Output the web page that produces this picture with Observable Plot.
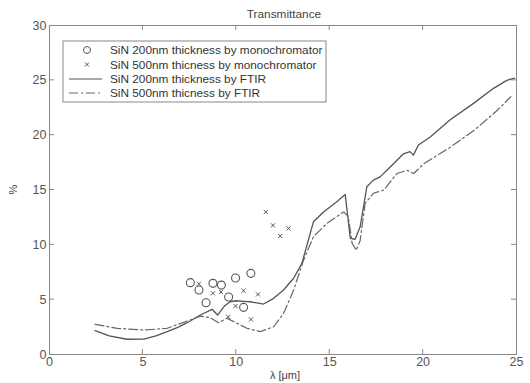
<!DOCTYPE html>
<html><head><meta charset="utf-8">
<script src="https://cdn.jsdelivr.net/npm/d3@7"></script>
<script src="https://cdn.jsdelivr.net/npm/@observablehq/plot@0.6"></script>
<style>body{margin:0;background:#fff}#c{position:relative;width:530px;height:383px}</style>
</head><body><div id="c"></div>
<script>
const xTicks = [0,5,10,15,20,25];
const yTicks = [0,5,10,15,20,25,30];
const monoX200 = [7.54,8.0,8.38,8.75,9.2,9.59,9.96,10.39,10.78];
const monoY200 = [6.55,5.88,4.72,6.49,6.33,5.24,6.97,4.3,7.4];
const monoX500 = [8.0,8.75,9.18,9.57,9.96,10.39,10.78,11.16,11.58,11.96,12.35,12.8];
const monoY500 = [6.45,5.58,5.7,3.42,4.42,5.82,3.2,5.48,13.0,11.78,10.8,11.5];
const ftirX200 = [2.44,3.2,4.15,5.05,5.7,6.3,6.9,7.37,8.08,8.7,9.0,9.36,9.68,9.96,10.4,10.75,11.1,11.46,12.0,12.53,13.07,13.51,14.13,14.67,15.38,15.83,16.1,16.36,16.63,16.99,17.34,17.7,18.24,18.95,19.3,19.48,19.75,20.4,21.45,22.7,23.77,24.48,24.9];
const ftirY200 = [2.17,1.7,1.39,1.41,1.7,2.08,2.5,2.9,3.6,4.12,3.6,4.42,4.81,4.9,4.85,4.81,4.7,4.6,5.12,5.88,6.95,8.31,12.1,13.0,13.93,14.6,10.6,10.5,11.65,15.3,15.9,16.2,17.1,18.3,18.5,18.18,19.1,19.85,21.4,22.9,24.27,25.0,25.2];
const ftirX500 = [2.44,3.62,5.05,6.3,7.37,8.08,8.6,9.05,9.5,9.86,10.57,11.28,12.0,12.53,13.07,13.6,14.13,14.85,15.75,16.0,16.2,16.42,16.63,16.9,17.34,17.9,18.6,19.14,19.5,20.04,21.45,22.7,23.93,24.7];
const ftirY500 = [2.75,2.39,2.23,2.39,3.05,3.5,3.36,2.9,3.3,3.0,2.39,2.08,2.53,3.75,5.88,8.6,10.74,11.96,13.0,12.56,10.14,9.5,10.4,13.8,14.7,15.0,16.5,16.8,16.5,17.4,18.9,20.4,22.2,23.5];
const legendLabels = ["SiN 200nm thickness by monochromator","SiN 500nm thicness by monochromator","SiN 200nm thickness by FTIR","SiN 500nm thicness by FTIR"];
const titleText = "Transmittance";

const zip = (xs, ys) => xs.map((x,i)=>({x, y: ys[i]}));
const m200 = zip(monoX200, monoY200), m500 = zip(monoX500, monoY500);
const f200 = zip(ftirX200, ftirY200), f500 = zip(ftirX500, ftirY500);
const ink = "#555";

const plot = Plot.plot({
  width: 530, height: 383,
  marginLeft: 49, marginRight: 14, marginTop: 25, marginBottom: 29,
  style: {fontFamily: "Liberation Sans, Arial, sans-serif", fontSize: "12px", color: ink, background: "#fff"},
  x: {type: "linear", domain: [0,25], ticks: xTicks, label: null},
  y: {type: "linear", domain: [0,30], ticks: yTicks, label: null},
  marks: [
    Plot.frame({stroke: "#888"}),
    Plot.axisX(xTicks, {anchor: "bottom", tickSize: 0, tickPadding: 3, fill: ink, fontSize: 12.5}),
    Plot.axisY(yTicks, {anchor: "left", tickSize: 0, tickPadding: 3, fill: ink, fontSize: 12.5}),
    Plot.line(f200, {x:"x", y:"y", stroke: "#555", strokeWidth: 1.3}),
    Plot.line(f500, {x:"x", y:"y", stroke: "#666", strokeWidth: 1.2, strokeDasharray: "9,3,2,3"}),
    Plot.dot(m200, {x:"x", y:"y", r: 4, stroke: "#555", strokeWidth: 1.1, fill: "none"}),
    Plot.dot(m500, {x:"x", y:"y", r: 2, symbol: "times", stroke: "#555", strokeWidth: 1})
  ]
});
document.getElementById("c").appendChild(plot);

// inward tick marks on all sides, via scales
const svg = d3.select(plot);
const sx = plot.scale("x"), sy = plot.scale("y");
const X = v => sx.apply(v), Y = v => sy.apply(v);
const g = svg.append("g").attr("stroke", "#888").attr("stroke-width", 1);
xTicks.slice(1,-1).forEach(t => {
  g.append("line").attr("x1", X(t)).attr("x2", X(t)).attr("y1", Y(0)).attr("y2", Y(0)-5);
  g.append("line").attr("x1", X(t)).attr("x2", X(t)).attr("y1", Y(30)).attr("y2", Y(30)+5);
});
yTicks.slice(1,-1).forEach(t => {
  g.append("line").attr("y1", Y(t)).attr("y2", Y(t)).attr("x1", X(0)).attr("x2", X(0)+5);
  g.append("line").attr("y1", Y(t)).attr("y2", Y(t)).attr("x1", X(25)).attr("x2", X(25)-5);
});

const font = "Liberation Sans, Arial, sans-serif";
svg.append("text").attr("x", 284).attr("y", 18).attr("text-anchor", "middle")
  .attr("font-family", font).attr("font-size", 11.8).attr("fill", "#444").text(titleText);
svg.append("text").attr("x", 285).attr("y", 379).attr("text-anchor", "middle")
  .attr("font-family", font).attr("font-size", 11).attr("fill", "#444").text("λ [μm]");
svg.append("text").attr("transform", `translate(17,${(Y(0)+Y(30))/2}) rotate(-90)`).attr("text-anchor", "middle")
  .attr("font-family", font).attr("font-size", 11).attr("fill", "#444").text("%");

// legend
const lg = svg.append("g");
const lx = 63, ly = 41, lw = 263, lh = 61;
lg.append("rect").attr("x", lx).attr("y", ly).attr("width", lw).attr("height", lh)
  .attr("fill", "#fff").attr("stroke", "#888");
const rows = [50, 64.5, 79, 93];
legendLabels.forEach((t,i) => {
  lg.append("text").attr("x", 110).attr("y", rows[i]).attr("dy", "0.35em").attr("text-anchor", "start")
    .attr("font-family", font).attr("font-size", 11.8).attr("fill", "#333").text(t);
});
lg.append("circle").attr("cx", 87).attr("cy", rows[0]).attr("r", 3.5).attr("fill", "none").attr("stroke", "#555");
lg.append("path").attr("d", `M85,${rows[1]-2}L89,${rows[1]+2}M85,${rows[1]+2}L89,${rows[1]-2}`).attr("stroke", "#555");
lg.append("line").attr("x1", 69).attr("x2", 102).attr("y1", rows[2]).attr("y2", rows[2]).attr("stroke", "#555").attr("stroke-width", 1.2);
lg.append("line").attr("x1", 69).attr("x2", 102).attr("y1", rows[3]).attr("y2", rows[3]).attr("stroke", "#666").attr("stroke-width", 1.2).attr("stroke-dasharray", "9,3,2,3");
</script>
</body></html>
